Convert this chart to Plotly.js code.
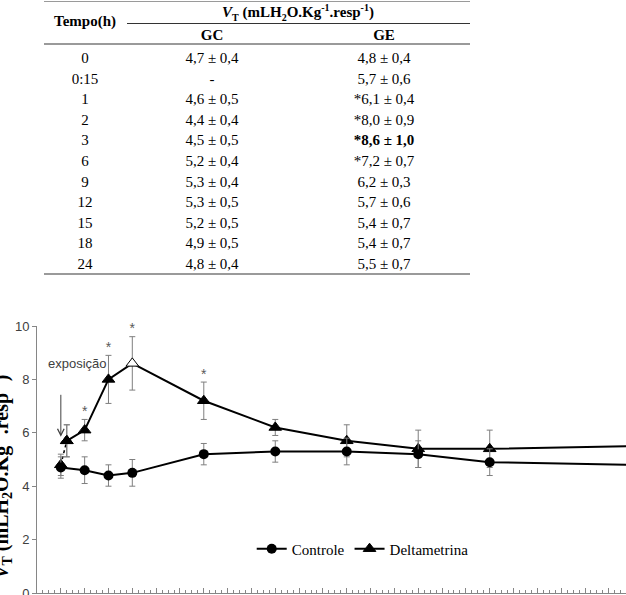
<!DOCTYPE html>
<html>
<head>
<meta charset="utf-8">
<script src="https://cdn.plot.ly/plotly-3.0.1.min.js"></script>
<style>
  html, body { margin: 0; padding: 0; width: 626px; height: 595px; overflow: hidden; background: #fff; }
  #chart { position: absolute; left: 0; top: 0; width: 626px; height: 595px; }
  #table { position: absolute; left: 0; top: 0; width: 626px; height: 290px; pointer-events: none;
           font-family: "Liberation Serif", "Times New Roman", serif; color: #000; }
  .cell { position: absolute; transform: translate(-50%, -50%); white-space: nowrap; font-size: 15px; line-height: 1; }
  .hdr { font-weight: bold; }
  .rule { position: absolute; }
</style>
</head>
<body>
<div id="chart"></div>
<div id="table"></div>
<script>
// ---- data ----
const timeLabels = ['0', '0:15', '1', '2', '3', '6', '9', '12', '15', '18', '24'];
const timesH     = [0, 0.25, 1, 2, 3, 6, 9, 12, 15, 18, 24];
const gcMean     = [4.7, null, 4.6, 4.4, 4.5, 5.2, 5.3, 5.3, 5.2, 4.9, 4.8];
const gcSD       = [0.4, null, 0.5, 0.4, 0.5, 0.4, 0.4, 0.5, 0.5, 0.5, 0.4];
const geMean     = [4.8, 5.7, 6.1, 8.0, 8.6, 7.2, 6.2, 5.7, 5.4, 5.4, 5.5];
const geSD       = [0.4, 0.6, 0.4, 0.9, 1.0, 0.7, 0.3, 0.6, 0.7, 0.7, 0.7];
const geSig      = [false, false, true, true, true, true, false, false, false, false, false];
const seriesNames = ['Controle', 'Deltametrina'];
const groupHeaders = ['GC', 'GE'];
const yTicks = [0, 2, 4, 6, 8, 10];

// ---- table (HTML) ----
const tbl = document.getElementById('table');
function addCell(txt, cx, cy, cls) {
  const d = document.createElement('div');
  d.className = 'cell' + (cls ? ' ' + cls : '');
  d.innerHTML = txt;
  d.style.left = cx + 'px';
  d.style.top = cy + 'px';
  tbl.appendChild(d);
}
function addRule(x0, x1, y, h, color) {
  const d = document.createElement('div');
  d.className = 'rule';
  d.style.left = x0 + 'px';
  d.style.width = (x1 - x0) + 'px';
  d.style.top = y + 'px';
  d.style.height = h + 'px';
  d.style.background = color;
  tbl.appendChild(d);
}
const fmt = v => v.toFixed(1).replace('.', ',');
const colT = 85, colGC = 212, colGE = 384;
addRule(44, 470, 1, 1, '#9a9a9a');
addCell('Tempo(h)', colT, 21, 'hdr');
addCell('<i>V</i><sub style="font-size:10px">T</sub> (mLH<sub style="font-size:10px">2</sub>O.Kg<sup style="font-size:10px">-1</sup>.resp<sup style="font-size:10px">-1</sup>)', 298, 13, 'hdr');
addRule(127, 470, 23, 1, '#333');
addCell(groupHeaders[0], colGC, 35, 'hdr');
addCell(groupHeaders[1], colGE, 35, 'hdr');
addRule(44, 470, 43, 2, '#9a9a9a');
const maxGE = Math.max(...geMean);
timeLabels.forEach((t, i) => {
  const cy = 58 + i * 20.6;
  addCell(t, colT, cy);
  addCell(gcMean[i] === null ? '-' : fmt(gcMean[i]) + ' ± ' + fmt(gcSD[i]), colGC, cy);
  const geTxt = (geSig[i] ? '*' : '') + fmt(geMean[i]) + ' ± ' + fmt(geSD[i]);
  addCell(geTxt, colGE, cy, geMean[i] === maxGE ? 'hdr' : '');
});
addRule(44, 470, 273, 2, '#9a9a9a');

// ---- chart ----
const gcX = [], gcY = [], gcE = [];
timesH.forEach((t, i) => { if (gcMean[i] !== null) { gcX.push(t); gcY.push(gcMean[i]); gcE.push(gcSD[i]); } });

const errStyle = { type: 'data', visible: true, color: '#7f7f7f', thickness: 1, width: 3 };
const geColors = geMean.map(v => v === maxGE ? '#ffffff' : '#000000');

const traces = [
  { // dotted start segment of Deltametrina
    x: timesH.slice(0, 2), y: geMean.slice(0, 2),
    mode: 'lines+markers', showlegend: false, hoverinfo: 'skip',
    line: { color: '#000', width: 1.5, dash: 'dot' },
    marker: { symbol: 'triangle-up', size: 11, color: geColors.slice(0, 2), line: { color: '#000', width: 1 } },
    error_y: Object.assign({ array: geSD.slice(0, 2) }, errStyle)
  },
  {
    x: timesH.slice(1), y: geMean.slice(1), name: seriesNames[1],
    mode: 'lines+markers',
    line: { color: '#000', width: 2 },
    marker: { symbol: 'triangle-up', size: 11, color: geColors.slice(1), line: { color: '#000', width: 1 } },
    error_y: Object.assign({ array: geSD.slice(1) }, errStyle)
  },
  {
    x: gcX, y: gcY, name: seriesNames[0],
    mode: 'lines+markers', connectgaps: true,
    line: { color: '#000', width: 2 },
    marker: { symbol: 'circle', size: 10, color: '#000' },
    error_y: Object.assign({ array: gcE }, errStyle)
  },
  { // significance asterisks
    x: timesH.filter((t, i) => geSig[i]),
    y: geMean.map((v, i) => v + geSD[i]).filter((v, i) => geSig[i]),
    mode: 'text', text: geSig.filter(s => s).map(() => '*'),
    textposition: 'top center', showlegend: false, hoverinfo: 'skip', cliponaxis: false,
    textfont: { family: 'Liberation Sans, Arial, sans-serif', size: 14, color: '#595959' }
  }
];

const layout = {
  width: 626, height: 595,
  margin: { l: 37, r: 0, t: 326, b: 2, pad: 0 },
  paper_bgcolor: '#fff', plot_bgcolor: '#fff',
  showlegend: true,
  legend: {
    orientation: 'h', x: 0.553, xanchor: 'center', y: 0.165, yanchor: 'middle',
    traceorder: 'reversed',
    font: { family: 'Liberation Serif, Times New Roman, serif', size: 15, color: '#000' },
    bgcolor: 'rgba(0,0,0,0)', itemwidth: 30
  },
  xaxis: {
    range: [-1, 23.72], showgrid: false, zeroline: false,
    showline: true, linecolor: '#868686', linewidth: 1,
    ticks: 'inside', ticklen: 5, tickcolor: '#868686', tick0: 0, dtick: 1,
    minor: { ticks: 'inside', ticklen: 3, dtick: 0.25, tick0: 0, tickcolor: '#868686', showgrid: false },
    showticklabels: false
  },
  yaxis: {
    range: [0, 10], showgrid: false, zeroline: false,
    showline: true, linecolor: '#868686', linewidth: 1,
    ticks: 'outside', ticklen: 4, tickcolor: '#868686',
    tickvals: yTicks, ticktext: yTicks.map(String), ticklabeloverflow: 'allow',
    tickfont: { family: 'Liberation Sans, Arial, sans-serif', size: 13, color: '#404040' }
  },
  annotations: [
    {
      xref: 'paper', yref: 'paper', x: 0, y: 0.435, xanchor: 'center', yanchor: 'middle',
      xshift: -36, textangle: -90, showarrow: false,
      text: '<b><i>V</i><sub>T</sub> (mLH<sub>2</sub>O.Kg<sup>-1</sup>.resp<sup>-1</sup>)</b>',
      font: { family: 'Liberation Serif, Times New Roman, serif', size: 20, color: '#000' }
    },
    {
      xref: 'x', yref: 'y', x: timesH[0] + 0.68, y: 8.6, showarrow: false,
      text: 'exposição', xanchor: 'center', yanchor: 'middle',
      font: { family: 'Liberation Sans, Arial, sans-serif', size: 13, color: '#404040' }
    },
    {
      xref: 'x', yref: 'y', x: timesH[0], y: 5.85, text: ' ', showarrow: true,
      ax: 0, ay: -52, arrowhead: 5, arrowsize: 1.3, arrowwidth: 1, arrowcolor: '#404040', standoff: 0
    }
  ]
};

Plotly.newPlot('chart', traces, layout, { displayModeBar: false, staticPlot: true });
</script>
</body>
</html>
